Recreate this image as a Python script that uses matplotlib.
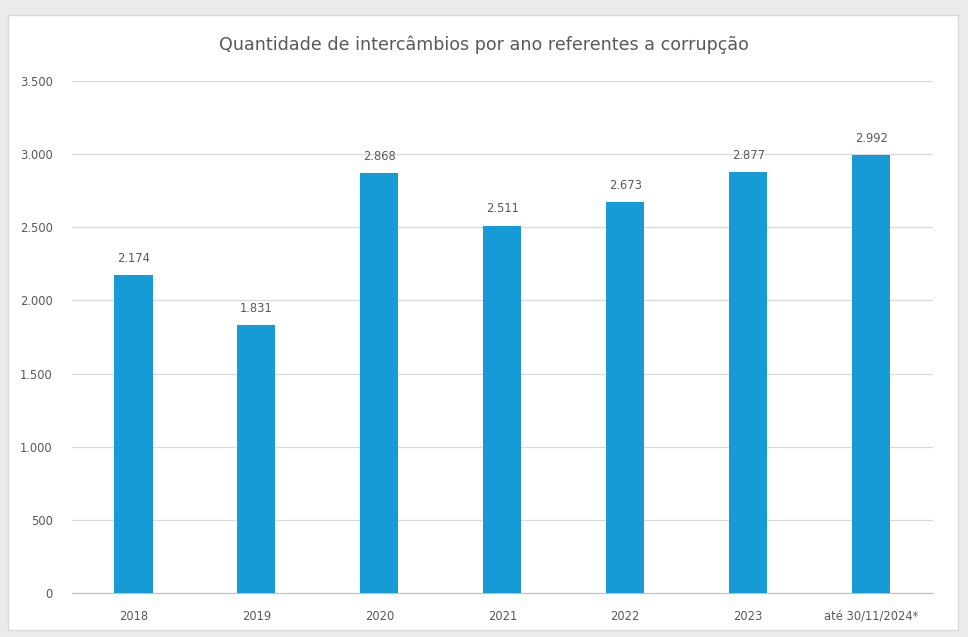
import matplotlib.pyplot as plt
from matplotlib.patches import Rectangle

categories = ["2018", "2019", "2020", "2021", "2022", "2023", "até 30/11/2024*"]
values = [2174, 1831, 2868, 2511, 2673, 2877, 2992]
y_ticks = [0, 500, 1000, 1500, 2000, 2500, 3000, 3500]

BAR_COLOR = "#169BD7"
TEXT_COLOR = "#595959"


def fmt(v):
    return f"{v:,}".replace(",", ".")


fig = plt.figure(figsize=(9.68, 6.37), dpi=100)
fig.patch.set_facecolor("#EBEBEB")

# white panel behind the chart
panel = Rectangle((8 / 968, 7 / 637), 950 / 968, 615 / 637, transform=fig.transFigure,
                  facecolor="white", edgecolor="#D9D9D9", linewidth=1.0, zorder=-10)
fig.patches.append(panel)

ax = fig.add_axes([0.0744, 0.069, 0.889, 0.804])
ax.set_facecolor("none")
ax.set_zorder(1)

x = range(len(categories))
ax.bar(x, values, width=0.31, color=BAR_COLOR, zorder=3)

for i, v in zip(x, values):
    ax.text(i, v + 70, fmt(v), ha="center", va="bottom", fontsize=8.3, color=TEXT_COLOR)

ax.set_xlim(-0.5, len(categories) - 0.5)
ax.set_ylim(0, 3500)
ax.set_yticks(y_ticks)
ax.set_yticklabels([fmt(t) for t in y_ticks])
ax.set_xticks(list(x))
ax.set_xticklabels(categories)

ax.grid(axis="y", color="#D9D9D9", linewidth=0.9, zorder=0)
for s in ["top", "right", "left"]:
    ax.spines[s].set_visible(False)
ax.spines["bottom"].set_color("#BFBFBF")
ax.tick_params(axis="both", length=0, colors=TEXT_COLOR, labelsize=8.3)
ax.tick_params(axis="y", pad=14)
ax.tick_params(axis="x", pad=12)

fig.text(0.5, 1 - 45 / 637, "Quantidade de intercâmbios por ano referentes a corrupção",
         ha="center", va="center", fontsize=12.6, color=TEXT_COLOR)

fig.savefig("out.png", dpi=100, facecolor=fig.get_facecolor())
